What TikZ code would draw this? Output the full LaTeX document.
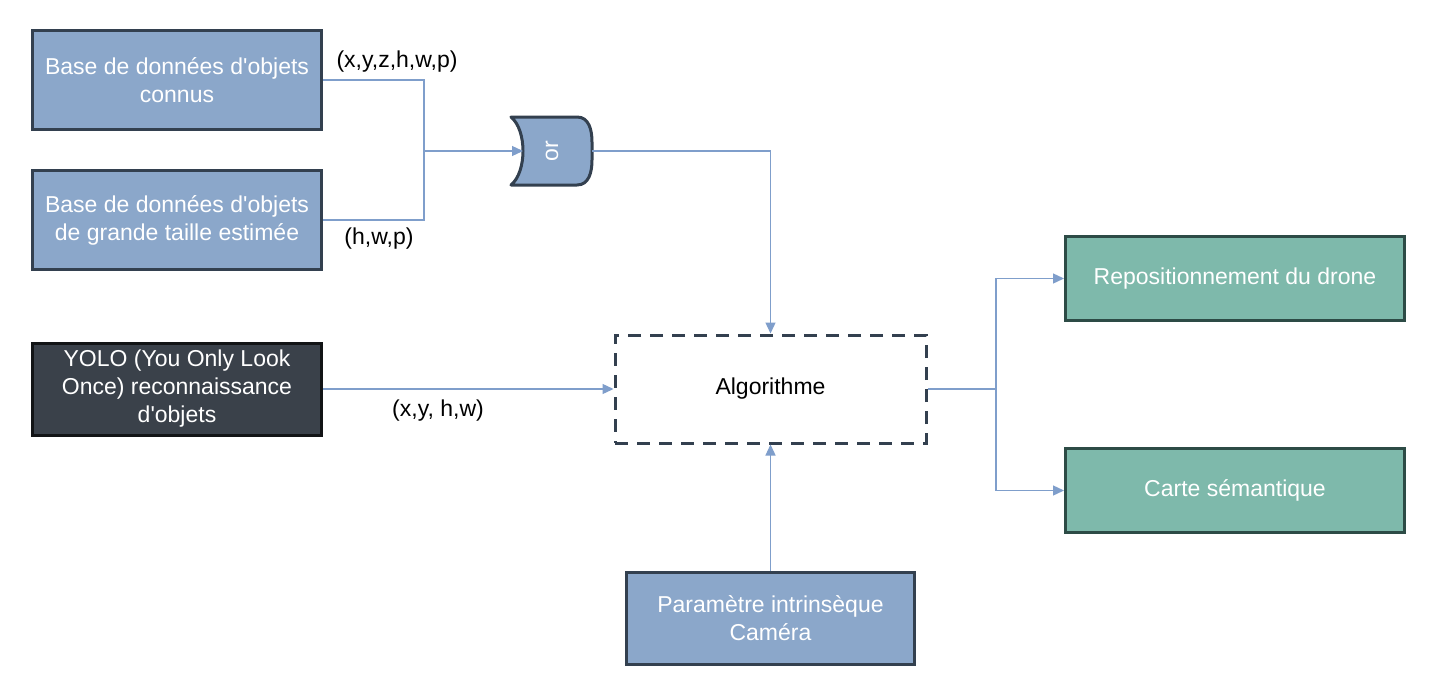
\documentclass[tikz,border=0pt]{standalone}
\usepackage{fontspec}
\setmainfont{Liberation Sans}
\usetikzlibrary{arrows.meta}
\definecolor{boxblue}{HTML}{8BA7CA}
\definecolor{boxblueline}{HTML}{33404F}
\definecolor{boxgreen}{HTML}{7EB9AB}
\definecolor{boxgreenline}{HTML}{2D4B46}
\definecolor{boxdark}{HTML}{3A414A}
\definecolor{boxdarkline}{HTML}{121416}
\definecolor{conncol}{HTML}{7F9ECB}
\newcommand{\apos}{\textquotesingle}
\begin{document}
\begin{tikzpicture}[x=1pt,y=-1pt,
  txt/.style={font=\fontsize{23}{28}\selectfont},
  box/.style={txt,draw,line width=3pt,inner sep=0pt,align=center,text=white},
  bluebox/.style={box,fill=boxblue,draw=boxblueline,minimum width=289pt,minimum height=99pt},
  darkbox/.style={box,fill=boxdark,draw=boxdarkline,minimum width=289pt,minimum height=92pt},
  greenbox/.style={box,fill=boxgreen,draw=boxgreenline,minimum width=339pt,minimum height=84pt},
  algbox/.style={txt,draw=boxblueline,line width=3pt,dash pattern=on 13pt off 9pt,inner sep=0pt,minimum width=311pt,minimum height=108pt,text=black},
  conn/.style={draw=conncol,line width=1.3pt},
  arr/.style={conn,-{Triangle[length=11pt,width=10pt]}},
  lbl/.style={txt,text=black,inner sep=0pt}]
\useasboundingbox (0,0) rectangle (1436,688);
\fill[white] (0,0) rectangle (1436,688);

\node[bluebox] (b1) at (177,80) {Base de données d\apos objets\\connus};
\node[bluebox] (b2) at (177,220) {Base de données d\apos objets\\de grande taille estimée};
\node[darkbox] (yolo) at (177,389) {YOLO (You Only Look\\Once) reconnaissance\\d\apos objets};
\node[algbox] (alg) at (770.5,389) {Algorithme};
\node[greenbox] (rep) at (1235,278.5) {Repositionnement du drone};
\node[greenbox] (carte) at (1235,490.5) {Carte sémantique};
\node[bluebox,minimum height=92pt,minimum width=288pt] (param) at (770.5,618.5) {Paramètre intrinsèque\\Caméra};

% OR gate
\path[fill=boxblue,draw=boxblueline,line width=3pt,line join=round]
  (511,117) -- (577,117) .. controls (589,117) and (592,130) .. (592,142)
  -- (592,160) .. controls (592,172) and (589,185) .. (577,185)
  -- (511,185) .. controls (527,172) and (527,130) .. (511,117) -- cycle;
\node[txt,text=white,rotate=90,inner sep=0pt] (gate) at (552,151) {or};
\coordinate (gin) at (523,151);
\coordinate (gout) at (592,151);

% connectors
\coordinate (j) at (424,151);
\draw[conn] (b1.east) -| (j) |- (b2.east);
\draw[arr] (j) -- (gin);
\draw[arr] (gout) -| (alg.north);
\draw[arr] (yolo.east) -- (alg.west);
\draw[arr] (param.north) -- (alg.south);
\coordinate (s) at (996,389);
\draw[conn] (alg.east) -- (s);
\draw[arr] (s) |- (rep.west);
\draw[arr] (s) |- (carte.west);

% labels
\node[lbl] (l1) at (397,62) {(x,y,z,h,w,p)};
\node[lbl] (l2) at (379,239) {(h,w,p)};
\node[lbl] (l3) at (438,411) {(x,y, h,w)};
\end{tikzpicture}
\end{document}
